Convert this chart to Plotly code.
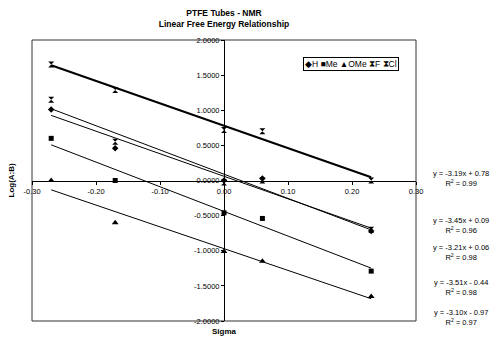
import plotly.graph_objects as go

# ---- data ----
sigma = [-0.27, -0.17, 0.00, 0.06, 0.23]
series_names = ["H", "Me", "OMe", "F", "Cl"]
H = [1.01, 0.46, 0.00, 0.03, -0.72]
Me = [0.60, 0.00, -0.46, -0.54, -1.29]
OMe = [0.00, -0.60, -1.01, -1.15, -1.65]
F = [1.15, 0.55, -0.03, 0.00, -0.70]
Cl = [1.65, 1.29, 0.72, 0.70, 0.00]

# trendline equations as printed (order as listed on the right)
fit_series = ["Cl", "F", "H", "Me", "OMe"]
fit_slopes = [-3.19, -3.45, -3.21, -3.51, -3.10]
fit_intercepts = [0.78, 0.09, 0.06, -0.44, -0.97]
fit_r2 = [0.99, 0.96, 0.98, 0.98, 0.97]

x_tick_vals = [-0.30, -0.20, -0.10, 0.00, 0.10, 0.20, 0.30]
x_tick_labels = ["-0.30", "-0.20", "-0.10", "0.00", "0.10", "0.20", "0.30"]
y_tick_vals = [2.0, 1.5, 1.0, 0.5, 0.0, -0.5, -1.0, -1.5, -2.0]
y_tick_labels = ["2.0000", "1.5000", "1.0000", "0.5000", "0.0000",
                 "-0.5000", "-1.0000", "-1.5000", "-2.0000"]

values = {"H": H, "Me": Me, "OMe": OMe, "F": F, "Cl": Cl}
symbols = {"H": "diamond", "Me": "square", "OMe": "triangle-up",
           "F": "hourglass", "Cl": "hourglass"}
sizes = {"H": 5, "Me": 5, "OMe": 6, "F": 6, "Cl": 6}

W, Hh = 493, 337
L, R, T, B = 32, 77, 40, 16
plot_w = W - L - R
plot_h = Hh - T - B


def px_x(px):
    return (px - L) / plot_w


def px_y(py):
    return (Hh - B - py) / plot_h


fig = go.Figure()

# trendlines
x_lo, x_hi = min(sigma), max(sigma)
for name, m, b in zip(fit_series, fit_slopes, fit_intercepts):
    xs = [x_lo, x_hi]
    ys = [m * x + b for x in xs]
    fig.add_trace(go.Scatter(
        x=xs, y=ys, mode="lines", name=name + " fit",
        line=dict(color="black", width=2 if name == "Cl" else 1),
        showlegend=False, hoverinfo="skip"))

# data points
for name in series_names:
    fig.add_trace(go.Scatter(
        x=sigma, y=values[name], mode="markers", name=name,
        marker=dict(symbol=symbols[name], color="black", size=sizes[name],
                    line=dict(width=0)),
        showlegend=False))

ann = []
# equation labels
eq_pos_y = [178, 225, 252, 287, 317]
for m, b, r2, py in zip(fit_slopes, fit_intercepts, fit_r2, eq_pos_y):
    sign = "+" if b >= 0 else "-"
    txt = f"y = {m:.2f}x {sign} {abs(b):.2f}<br>R<sup>2</sup> = {r2:.2f}"
    ann.append(dict(x=px_x(461), y=px_y(py), xref="paper", yref="paper",
                    text=txt, showarrow=False, align="center",
                    font=dict(size=7.5, color="black"),
                    xanchor="center", yanchor="middle"))

# axis titles
ann.append(dict(x=px_x(11), y=0.5, xref="paper", yref="paper", text="Log(A:B)",
                textangle=-90, showarrow=False, xanchor="center", yanchor="middle",
                font=dict(size=8, color="black", weight="bold")))
ann.append(dict(x=0.5, y=px_y(331), xref="paper", yref="paper", text="Sigma",
                showarrow=False, xanchor="center", yanchor="middle",
                font=dict(size=8, color="black", weight="bold")))

# legend box
legend_glyph = {"H": "◆", "Me": "■", "OMe": "▲", "F": "⧗", "Cl": "⧗"}
leg_txt = " ".join(legend_glyph[n] + n for n in series_names)
ann.append(dict(x=px_x(351), y=px_y(64), xref="paper", yref="paper", text=leg_txt,
                showarrow=False, font=dict(size=8.5, color="black"),
                bordercolor="black", borderwidth=1, borderpad=1, bgcolor="white",
                xanchor="center", yanchor="middle"))

fig.update_layout(
    width=W, height=Hh,
    margin=dict(l=L, r=R, t=T, b=B),
    paper_bgcolor="white", plot_bgcolor="white",
    font=dict(family="Liberation Sans, Arial, sans-serif", color="black"),
    title=dict(text="PTFE Tubes - NMR<br>Linear Free Energy Relationship",
               x=0.5 * (L + L + plot_w) / W, xanchor="center",
               y=1 - 16 / Hh, yanchor="middle",
               font=dict(size=8.5, color="black", weight="bold")),
    showlegend=False,
    xaxis=dict(range=[-0.3, 0.3], anchor="free", position=0.5,
               tickvals=x_tick_vals, ticktext=x_tick_labels,
               ticks="outside", ticklen=3, tickcolor="black",
               showline=True, linecolor="black", linewidth=1,
               showgrid=False, zeroline=False,
               tickfont=dict(size=7.5, color="black")),
    yaxis=dict(range=[-2, 2], anchor="free", position=0.5,
               tickvals=y_tick_vals, ticktext=y_tick_labels,
               ticks="outside", ticklen=3, tickcolor="black",
               showline=True, linecolor="black", linewidth=1,
               showgrid=False, zeroline=False,
               tickfont=dict(size=7.5, color="black")),
    annotations=ann,
    shapes=[dict(type="rect", xref="paper", yref="paper", x0=0, y0=0, x1=1, y1=1,
                 line=dict(color="#333333", width=1), layer="below")],
)

fig.write_html("out.html",
               config={"displayModeBar": False},
               post_script="document.body.style.margin='0px';"
                           "document.body.style.overflow='hidden';")
